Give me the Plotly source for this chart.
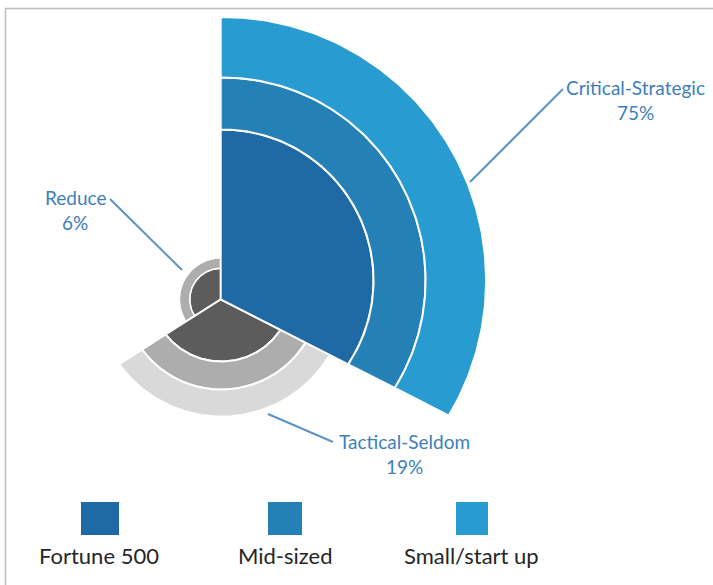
import numpy as np
import plotly.graph_objects as go

# ---- data -------------------------------------------------------------
categories = ["Critical-Strategic", "Tactical-Seldom", "Reduce"]
shares = [75, 19, 6]                      # % shown in the labels
segments = ["Fortune 500", "Mid-sized", "Small/start up"]

# outer radius of each company-size ring, per category
fortune_r = [151, 71, 31]
midsized_r = [203, 99, 41.5]
small_r = [263.5, 126, 43]

# ---- styling / layout constants --------------------------------------
W, H = 713, 585
APEX = (220.7, 299.3)
ARC_CENTRES = [(222.6, 280.5), (221.4, 290.6), (220.7, 299.3)]
EDGES_DEG = [0.0, 117.0, 237.4, 360.0]    # compass angles of wedge edges

BLUES = ["#1f69a5", "#2580b6", "#289bd0"]
GREYS = ["#5c5c5c", "#adadad", "#d9d9d9"]
LABEL_BLUE = "#3d7fb9"
FONT = "Lato"


def ring_polygon(apex, centre, r_in, r_out, a0, a1, n=160):
    """Ring segment bounded by two rays from the apex and two arcs."""
    ax, ay = apex
    cx, cy = centre

    def hit(phi, R):
        ux, uy = np.sin(phi), -np.cos(phi)
        dx, dy = ax - cx, ay - cy
        b = dx * ux + dy * uy
        t = -b + np.sqrt(b * b - (dx * dx + dy * dy) + R * R)
        return ax + t * ux, ay + t * uy

    def arc(R):
        p0, p1 = hit(a0, R), hit(a1, R)
        s0 = np.arctan2(p0[0] - cx, -(p0[1] - cy))
        s1 = np.arctan2(p1[0] - cx, -(p1[1] - cy))
        if s1 <= s0:
            s1 += 2 * np.pi
        s = np.linspace(s0, s1, n)
        return cx + R * np.sin(s), cy - R * np.cos(s)

    ox, oy = arc(r_out)
    if r_in <= 0:
        ix, iy = np.array([ax]), np.array([ay])
    else:
        ix, iy = arc(r_in)
        ix, iy = ix[::-1], iy[::-1]
    xs = np.concatenate([ox, ix, ox[:1]])
    ys = np.concatenate([oy, iy, oy[:1]])
    return xs, ys


fig = go.Figure()

rings = [fortune_r, midsized_r, small_r]
# draw the small categories first so the large wedge sits on top
for ci in [2, 1, 0]:
    a0 = np.radians(EDGES_DEG[ci])
    a1 = np.radians(EDGES_DEG[ci + 1])
    palette = BLUES if ci == 0 else GREYS
    r_prev = 0
    for si, seg in enumerate(segments):
        r_out = rings[si][ci]
        xs, ys = ring_polygon(APEX, ARC_CENTRES[ci], r_prev, r_out, a0, a1)
        fig.add_trace(go.Scatter(
            x=xs, y=ys, mode="lines", fill="toself",
            fillcolor=palette[si],
            line=dict(color="white", width=2 if ci < 2 else 1.5),
            name=f"{categories[ci]} – {seg}",
            hoverinfo="name", showlegend=False,
        ))
        r_prev = r_out

# ---- category labels with leader lines --------------------------------
label_pos = [(635, 87, 112), (404, 441, 466), (75, 197, 222)]
leaders = [((470, 182), (563, 89)), ((268, 414), (333, 442)), ((182, 270), (110, 199))]

annotations = []
shapes = []
for ci, cat in enumerate(categories):
    x, y1, y2 = label_pos[ci]
    annotations.append(dict(x=x, y=y1, xref="x", yref="y", text=cat, showarrow=False,
                            font=dict(family=FONT, size=19, color=LABEL_BLUE),
                            xanchor="center", yanchor="middle"))
    annotations.append(dict(x=x, y=y2, xref="x", yref="y", text=f"{shares[ci]}%",
                            showarrow=False,
                            font=dict(family=FONT, size=19, color=LABEL_BLUE),
                            xanchor="center", yanchor="middle"))
    (x0, y0), (x1, y1b) = leaders[ci]
    shapes.append(dict(type="line", xref="x", yref="y", x0=x0, y0=y0, x1=x1, y1=y1b,
                       line=dict(color="#5b93c4", width=2)))

# ---- legend (size classes) ------------------------------------------
legend_boxes = [(81, 119), (268, 302), (456, 488)]
legend_text_x = [99, 285, 471]
for si, seg in enumerate(segments):
    bx0, bx1 = legend_boxes[si]
    shapes.append(dict(type="rect", xref="x", yref="y", x0=bx0, x1=bx1, y0=502, y1=535,
                       fillcolor=BLUES[si], line=dict(width=0)))
    annotations.append(dict(x=legend_text_x[si], y=555, xref="x", yref="y", text=seg,
                            showarrow=False,
                            font=dict(family=FONT, size=22, color="#262626"),
                            xanchor="center", yanchor="middle"))

# thin frame at top and left
shapes.append(dict(type="line", xref="x", yref="y", x0=5, y0=8.5, x1=W, y1=8.5,
                   line=dict(color="#bdbdbd", width=1.5)))
shapes.append(dict(type="line", xref="x", yref="y", x0=5.5, y0=8.5, x1=5.5, y1=H,
                   line=dict(color="#bdbdbd", width=1.5)))

fig.update_layout(
    width=W, height=H,
    margin=dict(l=0, r=0, t=0, b=0),
    paper_bgcolor="white", plot_bgcolor="white",
    xaxis=dict(range=[0, W], visible=False, fixedrange=True),
    yaxis=dict(range=[H, 0], visible=False, fixedrange=True),
    showlegend=False,
    annotations=annotations,
    shapes=shapes,
)

fig.write_html("out.html")
